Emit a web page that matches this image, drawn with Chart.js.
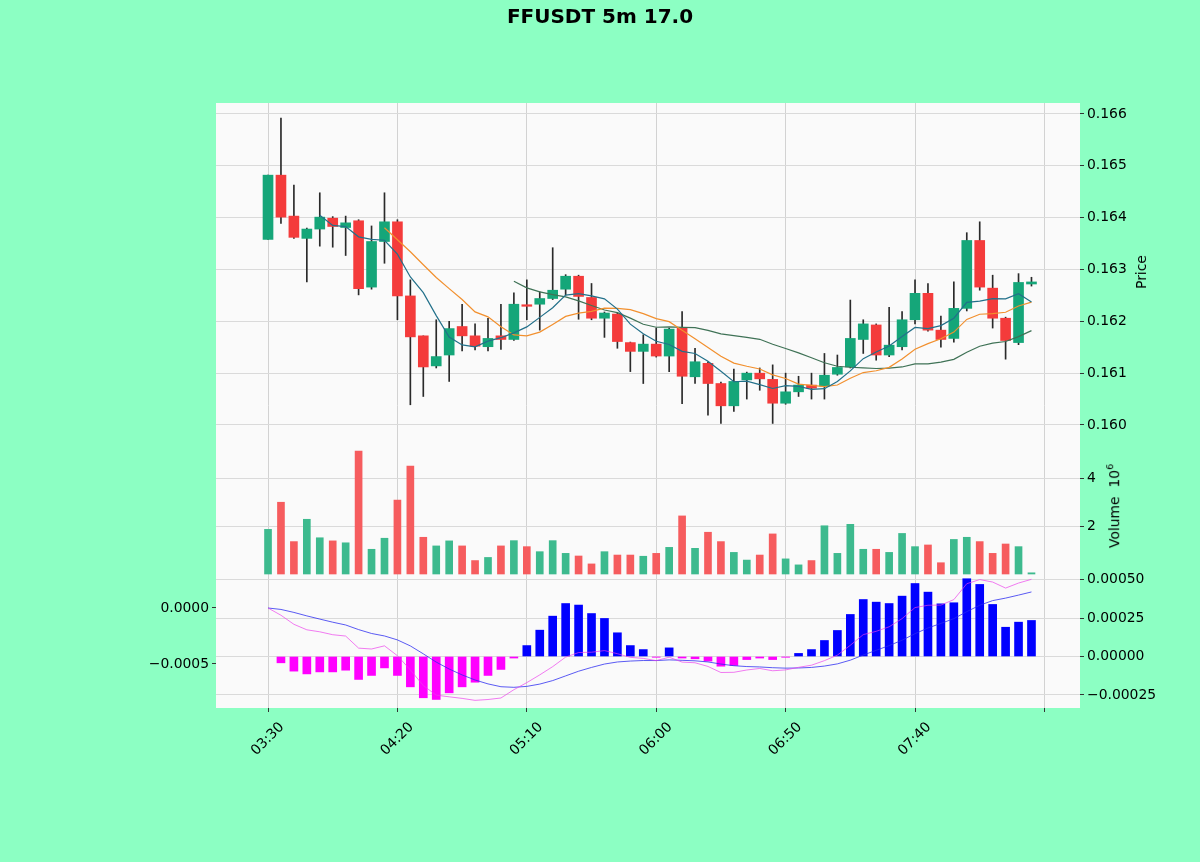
<!DOCTYPE html>
<html>
<head>
<meta charset="utf-8">
<script src="https://cdn.jsdelivr.net/npm/chart.js@4"></script>
<style>
  body { margin: 0; background: #8cffc3; font-family: "DejaVu Sans", sans-serif; }
  #wrap { position: relative; width: 1200px; height: 862px; }
  canvas { position: absolute; left: 0; top: 0; }
  .lbl { position: absolute; color: #000; white-space: nowrap; font-size: 13.9px; }
  .rot { transform: translate(-50%, -50%) rotate(-90deg); }
</style>
</head>
<body>
<div id="wrap">
  <canvas id="chart" width="1200" height="862"></canvas>
  <div class="lbl" style="left:600px; top:16px; transform:translate(-50%,-50%); font-weight:bold; font-size:20px;">FFUSDT 5m 17.0</div>
  <div class="lbl rot" style="left:1141px; top:272px;">Price</div>
  <div class="lbl rot" style="left:1113px; top:506px;">Volume&nbsp;&nbsp;10<sup style="font-size:9.5px;">6</sup></div>
</div>
<script>
// 5 minute candles, 03:30 .. 08:25
const times = [
  "03:30","03:35","03:40","03:45","03:50","03:55","04:00","04:05","04:10","04:15",
  "04:20","04:25","04:30","04:35","04:40","04:45","04:50","04:55","05:00","05:05",
  "05:10","05:15","05:20","05:25","05:30","05:35","05:40","05:45","05:50","05:55",
  "06:00","06:05","06:10","06:15","06:20","06:25","06:30","06:35","06:40","06:45",
  "06:50","06:55","07:00","07:05","07:10","07:15","07:20","07:25","07:30","07:35",
  "07:40","07:45","07:50","07:55","08:00","08:05","08:10","08:15","08:20","08:25"
];

const opens = [
  0.16358,0.16482,0.16403,0.16360,0.16378,0.16399,0.16381,0.16394,0.16266,0.16354,
  0.16392,0.16249,0.16172,0.16114,0.16135,0.16190,0.16172,0.16151,0.16172,0.16165,
  0.16232,0.16233,0.16244,0.16262,0.16287,0.16246,0.16206,0.16214,0.16159,0.16142,
  0.16156,0.16133,0.16187,0.16093,0.16119,0.16080,0.16037,0.16087,0.16100,0.16088,
  0.16042,0.16064,0.16077,0.16075,0.16098,0.16112,0.16165,0.16193,0.16135,0.16151,
  0.16203,0.16254,0.16183,0.16167,0.16225,0.16356,0.16264,0.16206,0.16159,0.16272
];
const highs = [
  0.16482,0.16592,0.16463,0.16380,0.16448,0.16402,0.16403,0.16396,0.16384,0.16448,
  0.16396,0.16280,0.16172,0.16203,0.16200,0.16233,0.16195,0.16206,0.16233,0.16255,
  0.16280,0.16257,0.16342,0.16290,0.16289,0.16273,0.16218,0.16216,0.16160,0.16174,
  0.16187,0.16187,0.16219,0.16148,0.16122,0.16083,0.16108,0.16102,0.16110,0.16116,
  0.16100,0.16094,0.16100,0.16138,0.16135,0.16241,0.16203,0.16195,0.16227,0.16219,
  0.16280,0.16273,0.16210,0.16276,0.16371,0.16392,0.16289,0.16208,0.16292,0.16285
];
const lows = [
  0.16358,0.16389,0.16360,0.16276,0.16345,0.16343,0.16327,0.16251,0.16262,0.16312,
  0.16203,0.16039,0.16055,0.16110,0.16084,0.16143,0.16145,0.16143,0.16146,0.16163,
  0.16203,0.16183,0.16242,0.16251,0.16204,0.16203,0.16169,0.16148,0.16103,0.16080,
  0.16131,0.16103,0.16041,0.16080,0.16019,0.16003,0.16026,0.16050,0.16067,0.16003,
  0.16040,0.16055,0.16050,0.16050,0.16096,0.16110,0.16138,0.16125,0.16132,0.16145,
  0.16195,0.16181,0.16150,0.16160,0.16220,0.16260,0.16187,0.16127,0.16155,0.16268
];
const closes = [
  0.16482,0.16401,0.16362,0.16378,0.16401,0.16383,0.16390,0.16263,0.16354,0.16392,
  0.16249,0.16170,0.16112,0.16132,0.16186,0.16172,0.16152,0.16167,0.16165,0.16233,
  0.16229,0.16244,0.16260,0.16287,0.16248,0.16206,0.16216,0.16161,0.16142,0.16156,
  0.16133,0.16185,0.16094,0.16122,0.16080,0.16037,0.16084,0.16100,0.16089,0.16042,
  0.16064,0.16077,0.16071,0.16096,0.16111,0.16167,0.16195,0.16135,0.16154,0.16203,
  0.16254,0.16183,0.16165,0.16225,0.16356,0.16266,0.16206,0.16163,0.16275,0.16276
];
const volumes = [
  1860000,2990000,1350000,2280000,1510000,1380000,1300000,5120000,1030000,1490000,
  3080000,4500000,1530000,1170000,1380000,1170000,560000,690000,1170000,1390000,
  1140000,930000,1390000,860000,750000,420000,930000,790000,790000,740000,
  860000,1110000,2420000,1070000,1740000,1350000,900000,580000,790000,1670000,
  630000,380000,560000,2010000,860000,2070000,1030000,1030000,900000,1690000,
  1140000,1210000,470000,1440000,1530000,1350000,860000,1250000,1140000,50000
];
// MACD histogram
const macdHist = [
  0,-0.000041,-0.000095,-0.000113,-0.000100,-0.000100,-0.000089,-0.000149,-0.000123,-0.000074,
  -0.000123,-0.000197,-0.000268,-0.000279,-0.000236,-0.000197,-0.000167,-0.000123,-0.000084,-0.000010,
  0.000071,0.000171,0.000262,0.000344,0.000334,0.000279,0.000247,0.000154,0.000071,0.000045,
  -0.000005,0.000056,-0.000010,-0.000015,-0.000030,-0.000063,-0.000058,-0.000020,-0.000010,-0.000020,
  -0.000005,0.000020,0.000045,0.000104,0.000169,0.000273,0.000370,0.000353,0.000344,0.000392,
  0.000474,0.000418,0.000342,0.000349,0.000505,0.000468,0.000338,0.000190,0.000223,0.000234
];

const xTicks = [0, 10, 20, 30, 40, 50, 60];
const priceTicks = [0.160, 0.161, 0.162, 0.163, 0.164, 0.165, 0.166];
const volumeTicks = [2000000, 4000000];
const histTicks = [-0.00025, 0, 0.00025, 0.0005];
const macdTicks = [-0.0005, 0];

// moving averages and macd lines derived from the closes
function sma(arr, n) {
    return arr.map((v, i) => i < n - 1 ? null : arr.slice(i - n + 1, i + 1).reduce((a, b) => a + b, 0) / n);
}
function ema(arr, n) {
    const k = 2 / (n + 1);
    const out = [];
    arr.forEach((v, i) => out.push(i === 0 ? v : v * k + out[i - 1] * (1 - k)));
    return out;
}
const ema12 = ema(closes, 12);
const ema26 = ema(closes, 26);
const dif = ema12.map((v, i) => v - ema26[i]);
const dea = ema(dif, 9);

const UP = "#15a679", DOWN = "#f43b3b";
const VUP = "#3dba8e", VDOWN = "#f65c5e";
const isUp = closes.map((c, i) => c >= opens[i]);
const minus = s => s.replace("-", "\u2212");
const font = { family: "DejaVu Sans", size: 13.9 };
const fixTicks = list => scale => { scale.ticks = list.map(v => ({ value: v })); };
const noWidth = scale => { scale.width = 0; };

document.addEventListener("DOMContentLoaded", () => {
    const ctx = document.getElementById("chart").getContext("2d");

    const plotBg = {
        id: "plotBg",
        beforeDraw(chart) {
            const a = chart.chartArea;
            chart.ctx.save();
            chart.ctx.fillStyle = "#fafafa";
            chart.ctx.fillRect(a.left, a.top, a.right - a.left, a.bottom - a.top);
            chart.ctx.restore();
        }
    };
    // axes are laid out with zero size so they overlap; give the labels room to draw
    const widen = {
        id: "widen",
        afterLayout(chart) {
            const s = chart.scales;
            ["yP", "yV", "yH"].forEach(k => { s[k].right = s[k].left + 115; });
            s.yM.left = s.yM.right - 120;
            s.x.bottom = s.x.top + 150;
        }
    };

    const yBase = {
        position: "right",
        afterFit: noWidth,
        border: { display: false },
        grid: { color: "#dadada", tickLength: 4, tickColor: "#333" },
        ticks: { font, color: "#000", padding: 3 }
    };

    new Chart(ctx, {
        type: "bar",
        data: {
            datasets: [
                {
                    label: "wick",
                    data: times.map((t, i) => ({ x: i, y: [lows[i], highs[i]] })),
                    backgroundColor: "#2a2a2a",
                    barThickness: 1,
                    yAxisID: "yP",
                    order: 5
                },
                {
                    label: "body",
                    data: times.map((t, i) => ({ x: i, y: [opens[i], closes[i]] })),
                    backgroundColor: isUp.map(u => u ? UP : DOWN),
                    barThickness: 10,
                    minBarLength: 1,
                    yAxisID: "yP",
                    order: 4
                },
                {
                    type: "line", label: "MA5",
                    data: sma(closes, 5).map((v, i) => ({ x: i, y: v })),
                    borderColor: "#22708a", borderWidth: 1.2, pointRadius: 0,
                    yAxisID: "yP", order: 1
                },
                {
                    type: "line", label: "MA10",
                    data: sma(closes, 10).map((v, i) => ({ x: i, y: v })),
                    borderColor: "#f2902e", borderWidth: 1.2, pointRadius: 0,
                    yAxisID: "yP", order: 2
                },
                {
                    type: "line", label: "MA20",
                    data: sma(closes, 20).map((v, i) => ({ x: i, y: v })),
                    borderColor: "#3f7256", borderWidth: 1.2, pointRadius: 0,
                    yAxisID: "yP", order: 3
                },
                {
                    label: "Volume",
                    data: volumes.map((v, i) => ({ x: i, y: v })),
                    backgroundColor: isUp.map(u => u ? VUP : VDOWN),
                    barThickness: 7,
                    yAxisID: "yV",
                    order: 6
                },
                {
                    label: "hist",
                    data: macdHist.map((v, i) => ({ x: i, y: v })),
                    backgroundColor: macdHist.map(v => v > 0 ? "#0000ff" : v < 0 ? "#ff00ff" : "rgba(0,0,0,0)"),
                    barThickness: 8,
                    yAxisID: "yH",
                    order: 7
                },
                {
                    type: "line", label: "macd",
                    data: dif.map((v, i) => ({ x: i, y: v })),
                    borderColor: "rgba(235,60,235,0.75)", borderWidth: 0.9, pointRadius: 0,
                    yAxisID: "yM", order: 1
                },
                {
                    type: "line", label: "signal",
                    data: dea.map((v, i) => ({ x: i, y: v })),
                    borderColor: "rgba(40,40,240,0.85)", borderWidth: 0.9, pointRadius: 0,
                    yAxisID: "yM", order: 1
                }
            ]
        },
        options: {
            responsive: false,
            animation: false,
            devicePixelRatio: 1,
            layout: { padding: { left: 216, right: 120, top: 103, bottom: 154 } },
            datasets: { bar: { grouped: false } },
            plugins: { legend: { display: false }, tooltip: { enabled: false } },
            scales: {
                x: {
                    type: "linear",
                    min: -4.02, max: 62.75,
                    offset: false,
                    afterBuildTicks: fixTicks(xTicks),
                    afterFit: scale => { scale.height = 0; },
                    border: { display: false },
                    grid: { offset: false, color: "#d2d2d2", tickLength: 4, tickColor: "#333" },
                    ticks: {
                        font, color: "#000", padding: 7, labelOffset: 14,
                        minRotation: 45, maxRotation: 45, autoSkip: false,
                        callback: v => times[v] || ""
                    }
                },
                yP: Object.assign({}, yBase, {
                    min: 0.15454, max: 0.166212,
                    afterBuildTicks: fixTicks(priceTicks),
                    ticks: Object.assign({}, yBase.ticks, { callback: v => v.toFixed(3) })
                }),
                yV: Object.assign({}, yBase, {
                    min: -5583333, max: 19625000,
                    afterBuildTicks: fixTicks(volumeTicks),
                    ticks: Object.assign({}, yBase.ticks, { callback: v => String(v / 1e6) })
                }),
                yH: Object.assign({}, yBase, {
                    min: -0.00033442, max: 0.0035942,
                    afterBuildTicks: fixTicks(histTicks),
                    ticks: Object.assign({}, yBase.ticks, { callback: v => minus(v.toFixed(5)) })
                }),
                yM: {
                    position: "left",
                    min: -0.00089286, max: 0.0045089,
                    afterFit: noWidth,
                    afterBuildTicks: fixTicks(macdTicks),
                    border: { display: false },
                    grid: { drawOnChartArea: false, tickLength: 4, tickColor: "#333" },
                    ticks: { font, color: "#000", padding: 3, callback: v => minus(v.toFixed(4)) }
                }
            }
        },
        plugins: [plotBg, widen]
    });
});
</script>
</body>
</html>
